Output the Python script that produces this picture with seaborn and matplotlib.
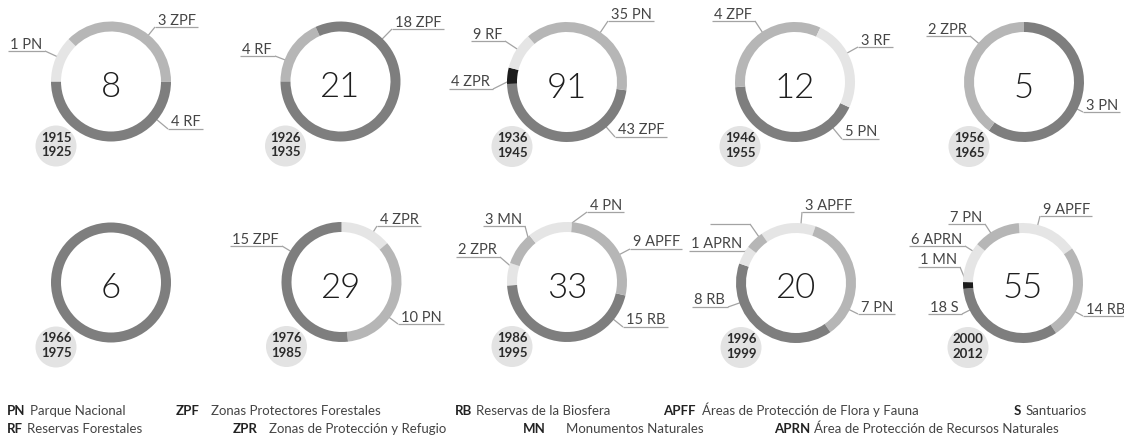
import matplotlib
matplotlib.use("Agg")
import matplotlib.pyplot as plt
from matplotlib.patches import Circle
import numpy as np
import seaborn as sns

# ---------------- data ----------------
periods = ["1915\n1925", "1926\n1935", "1936\n1945", "1946\n1955", "1956\n1965",
           "1966\n1975", "1976\n1985", "1986\n1995", "1996\n1999", "2000\n2012"]
totals = [8, 21, 91, 12, 5, 6, 29, 33, 20, 55]

# segment values / categories, in clockwise order
seg_values = [
    [4, 1, 3],
    [4, 18],
    [43, 4, 9, 35],
    [5, 4, 3],
    [3, 2],
    [6],
    [4, 10, 15],
    [15, 2, 3, 4, 9],
    [3, 7, 8, 1, 1],
    [9, 14, 18, 1, 6, 7],
]
seg_codes = [
    ["RF", "PN", "ZPF"],
    ["RF", "ZPF"],
    ["ZPF", "ZPR", "RF", "PN"],
    ["PN", "ZPF", "RF"],
    ["PN", "ZPR"],
    [""],
    ["ZPR", "PN", "ZPF"],
    ["RB", "ZPR", "MN", "PN", "APFF"],
    ["APFF", "PN", "RB", "APRN", ""],
    ["APFF", "RB", "S", "MN", "APRN", "PN"],
]

legend_codes_1 = ["PN", "ZPF", "RB", "APFF", "S"]
legend_names_1 = ["Parque Nacional", "Zonas Protectores Forestales",
                  "Reservas de la Biosfera", "Áreas de Protección de Flora y Fauna",
                  "Santuarios"]
legend_codes_2 = ["RF", "ZPR", "MN", "APRN"]
legend_names_2 = ["Reservas Forestales", "Zonas de Protección y Refugio",
                  "Monumentos Naturales", "Área de Protección de Recursos Naturales"]

# ---------------- style / layout ----------------
TONE = {"dark": "#7e7e7e", "mid": "#b6b6b6", "light": "#e5e5e5", "black": "#1c1c1c"}
tones = [
    ["dark", "light", "mid"],
    ["mid", "dark"],
    ["dark", "black", "light", "mid"],
    ["dark", "mid", "light"],
    ["dark", "mid"],
    ["dark"],
    ["light", "mid", "dark"],
    ["dark", "light", "mid", "light", "mid"],
    ["light", "mid", "dark", "light", "mid"],
    ["light", "mid", "dark", "black", "light", "mid"],
]
start_angles = [0, 180, -8, -25, 90, 90, 90, -13, 125, 94]
centers_px = [(111, 82.5), (340.5, 82.5), (567, 83), (795, 83), (1024, 83),
              (111, 283.5), (341.5, 283), (567, 283), (796, 284), (1023, 284)]
# leader elbow points (pixel coords) and label side, per segment
elbows = [
    [(168, 130, "r"), (45, 52, "l"), (155, 28, "r")],
    [(275, 57, "l"), (392, 30, "r")],
    [(615, 138, "r"), (493, 90, "l"), (505, 42, "l"), (608, 22, "r")],
    [(842, 140, "r"), (755, 22, "l"), (858, 48, "r")],
    [(1083, 113, "r"), (970, 37, "l")],
    [None],
    [(377, 227, "r"), (398, 325, "r"), (282, 247, "l")],
    [(623, 328, "r"), (500, 258, "l"), (525, 227, "l"), (587, 213, "r"), (630, 250, "r")],
    [(802, 213, "r"), (858, 315, "r"), (728, 308, "l"), (745, 252, "l"), (750, 225, "l")],
    [(1040, 217, "r"), (1083, 317, "r"), (962, 315, "l"), (960, 268, "l"),
     (965, 247, "l"), (985, 225, "l")],
]
legend_x_1 = [(7, 30), (176, 211), (455, 474), (663, 702), (1014, 1026)]
legend_x_2 = [(7, 25), (233, 269), (523, 566), (774, 810)]

W, H = 1124, 439
R, RW, RT = 60, 10, 56
LINE_C = "#a3a3a3"

sns.set_theme(style="white")
plt.rcParams["font.family"] = ["Lato", "DejaVu Sans"]

fig = plt.figure(figsize=(W / 100, H / 100), dpi=100)
fig.patch.set_facecolor("white")
ax = fig.add_axes([0, 0, 1, 1])


def clamp_angle(a, t1, t2, m):
    a = (a - t1) % 360 + t1
    lo, hi = t1 + m, t2 - m
    if lo > hi:
        lo = hi = (t1 + t2) / 2
    if lo <= a <= hi:
        return a
    d_lo = (lo - a) % 360
    d_hi = (a - hi) % 360
    return lo if d_lo < d_hi else hi


pending = []  # (text artist or None, elbow x, elbow y data, side)

for i in range(len(totals)):
    cx, cy = centers_px[i]
    cyd = H - cy
    wedges, _ = ax.pie(seg_values[i], colors=[TONE[t] for t in tones[i]],
                       startangle=start_angles[i], counterclock=False,
                       center=(cx, cyd), radius=R, frame=False,
                       wedgeprops=dict(width=RW, edgecolor="none", linewidth=0))
    for w in wedges:
        w.set_zorder(2)

    # centre number
    ax.text(cx, H - (cy + 14.5), str(totals[i]), ha="center", va="baseline",
            fontsize=25, fontweight=300, color="#1e1e1e", zorder=3)

    # period badge
    bx, by = cx - 55, H - (cy + 64.5)
    ax.add_patch(Circle((bx, by), 20.5, facecolor="#e3e3e3", edgecolor="none", zorder=1))
    ax.text(bx, by + 2, periods[i], ha="center", va="center", fontsize=9.5,
            fontweight="bold", color="#2b2b2b", linespacing=1.3, zorder=3)

    # labels with leader lines
    for v, code, el, w in zip(seg_values[i], seg_codes[i], elbows[i], wedges):
        if el is None:
            continue
        ex, ey, side = el
        eyd = H - ey
        ang = np.degrees(np.arctan2(eyd - cyd, ex - cx))
        m = min(4.0, (w.theta2 - w.theta1) / 4)
        a = np.radians(clamp_angle(ang, w.theta1, w.theta2, m))
        tx, ty = cx + RT * np.cos(a), cyd + RT * np.sin(a)
        ax.plot([tx, ex], [ty, eyd], color=LINE_C, lw=0.9, zorder=1,
                solid_capstyle="butt")
        txt = None
        if code:
            label = f"{v} {code}"
            if side == "r":
                txt = ax.text(ex + 3, eyd + 3.5, label, ha="left", va="baseline",
                              fontsize=10.5, color="#454545", zorder=3)
            else:
                txt = ax.text(ex - 3, eyd + 3.5, label, ha="right", va="baseline",
                              fontsize=10.5, color="#454545", zorder=3)
        pending.append((txt, ex, eyd, side))

ax.set_xlim(0, W)
ax.set_ylim(0, H)
ax.set_aspect("equal")
ax.axis("off")

# legend: bold code, then the name (kept clear of the code)
fig.canvas.draw()
renderer = fig.canvas.get_renderer()
for xs_, codes, names, yb in ((legend_x_1, legend_codes_1, legend_names_1, H - 415),
                              (legend_x_2, legend_codes_2, legend_names_2, H - 433)):
    for (cx_, nx), code, name in zip(xs_, codes, names):
        ct = ax.text(cx_, yb, code, ha="left", va="baseline", fontsize=9.5,
                     fontweight="bold", color="#222222")
        cend = ct.get_window_extent(renderer).x1
        ax.text(max(nx, cend + 4), yb, name, ha="left", va="baseline",
                fontsize=9.5, color="#444444")

# underlines sized to the label text
for txt, ex, eyd, side in pending:
    if txt is not None:
        bb = txt.get_window_extent(renderer)
        if side == "r":
            xs = [ex, bb.x1 + 2]
        else:
            xs = [bb.x0 - 2, ex]
    else:
        xs = [ex - 40, ex]
    ax.plot(xs, [eyd, eyd], color=LINE_C, lw=0.9, zorder=1, solid_capstyle="butt")

ax.set_xlim(0, W)
ax.set_ylim(0, H)
fig.savefig("out.png", dpi=100, facecolor="white")
